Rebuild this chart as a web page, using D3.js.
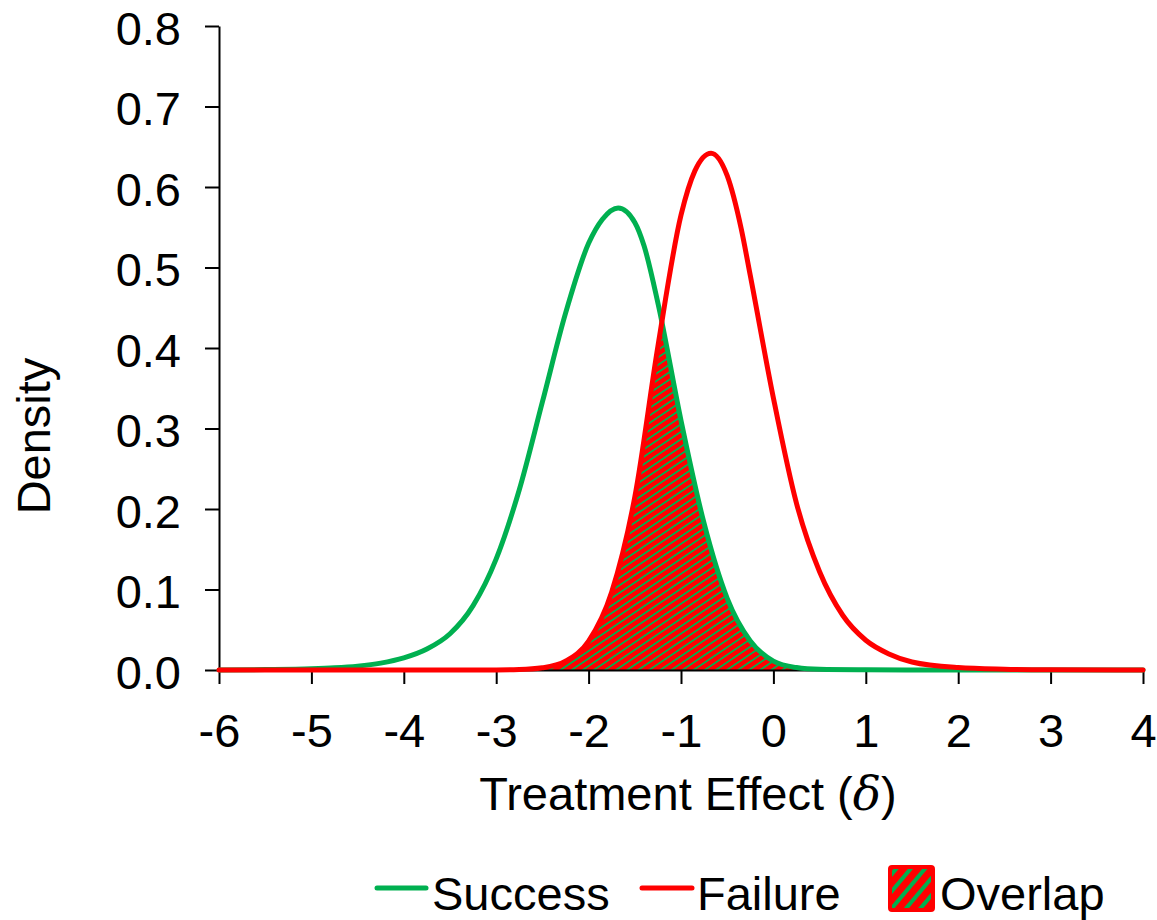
<!DOCTYPE html>
<html>
<head>
<meta charset="utf-8">
<script src="https://cdn.jsdelivr.net/npm/d3@7"></script>
<style>
  html, body { margin: 0; padding: 0; background: #fff; }
  svg { display: block; font-family: "Liberation Sans", Arial, sans-serif; }
</style>
</head>
<body>
<svg id="chart" width="1157" height="920"></svg>
<script>
// Posterior density of the treatment effect, split by trial outcome
const successX = [-6, -5.5, -5, -4.75, -4.5, -4.25, -4, -3.75, -3.5, -3.25, -3, -2.75, -2.5, -2.25, -2, -1.85, -1.68, -1.5, -1.4, -1.25, -1, -0.75, -0.5, -0.25, 0, 0.25, 0.5, 1, 1.5, 2, 3, 4];
const successY = [0.0001, 0.0005, 0.0015, 0.0027, 0.0048, 0.0085, 0.015, 0.026, 0.045, 0.080, 0.138, 0.224, 0.333, 0.443, 0.530, 0.560, 0.574, 0.556, 0.527, 0.456, 0.310, 0.182, 0.089, 0.036, 0.011, 0.003, 0.0008, 0.0002, 0, 0, 0, 0];

const failureX = [-6, -4, -3, -2.75, -2.5, -2.25, -2, -1.75, -1.5, -1.25, -1, -0.85, -0.675, -0.5, -0.35, -0.25, 0, 0.25, 0.5, 0.75, 1, 1.25, 1.5, 2, 2.5, 3, 4];
const failureY = [0, 0, 0.0001, 0.0005, 0.0027, 0.011, 0.036, 0.097, 0.215, 0.402, 0.565, 0.620, 0.642, 0.614, 0.549, 0.490, 0.338, 0.207, 0.122, 0.068, 0.037, 0.020, 0.010, 0.003, 0.001, 0.0003, 0];

const xTicks = [-6, -5, -4, -3, -2, -1, 0, 1, 2, 3, 4];
const yTicks = [0, 0.1, 0.2, 0.3, 0.4, 0.5, 0.6, 0.7, 0.8];
const seriesNames = ["Success", "Failure", "Overlap"];

const GREEN = "#00B050";
const RED = "#FF0000";
const FONT = 47;

const svg = d3.select("#chart");

const x = d3.scaleLinear().domain([-6, 4]).range([219, 1143]);
const y = d3.scaleLinear().domain([0, 0.8]).range([670, 26]);

const success = successX.map((v, i) => ({ x: v, y: successY[i] }));
const failure = failureX.map((v, i) => ({ x: v, y: failureY[i] }));

const defs = svg.append("defs");

// diagonal hatch: red ground with green stripes
function hatch(id, period, stripe, angle) {
  const p = defs.append("pattern")
    .attr("id", id)
    .attr("patternUnits", "userSpaceOnUse")
    .attr("width", period)
    .attr("height", period)
    .attr("patternTransform", `rotate(${angle})`);
  p.append("rect").attr("width", period).attr("height", period).attr("fill", RED);
  p.append("rect").attr("width", stripe).attr("height", period).attr("fill", GREEN)
    .attr("shape-rendering", "crispEdges");
}
hatch("overlapHatch", 6.2, 2.2, 56);
hatch("legendHatch", 11, 4, 40);

const curve = d3.curveMonotoneX;
const area = d3.area().curve(curve).x(d => x(d.x)).y0(y(0)).y1(d => y(d.y));
const line = d3.line().curve(curve).x(d => x(d.x)).y(d => y(d.y));

// overlap = area under failure curve clipped to area under success curve
defs.append("clipPath").attr("id", "underSuccess")
  .append("path").attr("d", area(success));

svg.append("path")
  .attr("d", area(failure))
  .attr("fill", "url(#overlapHatch)")
  .attr("clip-path", "url(#underSuccess)");

// axes
const yAxis = d3.axisLeft(y).tickValues(yTicks).tickFormat(d3.format(".1f"))
  .tickSize(14).tickSizeOuter(0).tickPadding(24);
const xAxis = d3.axisBottom(x).tickValues(xTicks).tickFormat(d3.format("d"))
  .tickSize(14).tickSizeOuter(0).tickPadding(30);

const gy = svg.append("g").attr("transform", `translate(${x(-6)},0)`).call(yAxis);
const gx = svg.append("g").attr("transform", `translate(0,${y(0)})`).call(xAxis);

[gx, gy].forEach(g => {
  g.selectAll(".domain, .tick line").attr("stroke", "#000").attr("stroke-width", 2);
  g.selectAll(".tick text")
    .attr("fill", "#000")
    .style("font-size", FONT + "px")
    .style("font-family", "'Liberation Sans', Arial, sans-serif");
});
gy.selectAll(".tick text").attr("dy", "0.39em");
gx.selectAll(".tick text").text(d => d < 0 ? "-" + Math.abs(d) : d);

// density curves
svg.append("path").attr("d", line(success))
  .attr("fill", "none").attr("stroke", GREEN).attr("stroke-width", 5)
  .attr("stroke-linecap", "round").attr("stroke-linejoin", "round");
svg.append("path").attr("d", line(failure))
  .attr("fill", "none").attr("stroke", RED).attr("stroke-width", 5)
  .attr("stroke-linecap", "round").attr("stroke-linejoin", "round");

// axis titles
const xTitle = svg.append("text")
  .attr("x", 688).attr("y", 810)
  .attr("text-anchor", "middle")
  .style("font-size", FONT + "px").attr("fill", "#000");
xTitle.append("tspan").text("Treatment Effect (");
xTitle.append("tspan").text("δ")
  .style("font-style", "italic")
  .style("font-family", "'DejaVu Serif', 'Liberation Serif', serif");
xTitle.append("tspan").text(")");

svg.append("text")
  .attr("transform", "translate(50,436) rotate(-90)")
  .attr("text-anchor", "middle")
  .style("font-size", FONT + "px").attr("fill", "#000")
  .text("Density");

// legend
const legend = svg.append("g");
const ly = 888, textY = 910;
legend.append("line").attr("x1", 377).attr("x2", 426).attr("y1", ly).attr("y2", ly)
  .attr("stroke", GREEN).attr("stroke-width", 5).attr("stroke-linecap", "round");
legend.append("text").attr("x", 432).attr("y", textY)
  .style("font-size", FONT + "px").attr("fill", "#000").text(seriesNames[0]);
legend.append("line").attr("x1", 642).attr("x2", 692).attr("y1", ly).attr("y2", ly)
  .attr("stroke", RED).attr("stroke-width", 5).attr("stroke-linecap", "round");
legend.append("text").attr("x", 697).attr("y", textY)
  .style("font-size", FONT + "px").attr("fill", "#000").text(seriesNames[1]);
legend.append("rect").attr("x", 890).attr("y", 867).attr("width", 43).attr("height", 43)
  .attr("rx", 2).attr("fill", "url(#legendHatch)")
  .attr("stroke", RED).attr("stroke-width", 4);
legend.append("text").attr("x", 940).attr("y", textY)
  .style("font-size", FONT + "px").attr("fill", "#000").text(seriesNames[2]);
</script>
</body>
</html>
